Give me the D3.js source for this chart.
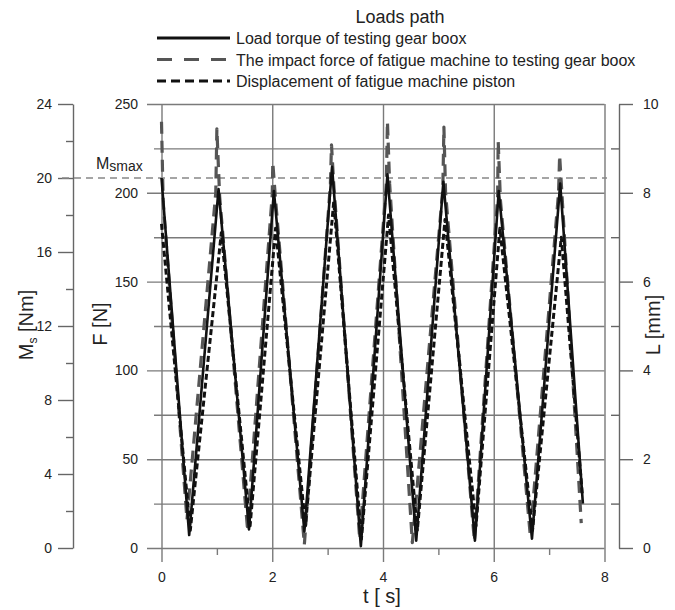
<!DOCTYPE html>
<html>
<head>
<meta charset="utf-8">
<script src="https://cdn.jsdelivr.net/npm/d3@7"></script>
<style>
  body { margin: 0; background: #fff; }
  svg { display: block; font-family: "Liberation Sans", Arial, sans-serif; }
  .tick text { fill: #222; }
</style>
</head>
<body>
<svg id="chart" width="675" height="610"></svg>
<script>
/* DATA */
// load torque of testing gear box, Ms [Nm]
var torqueT  = [0, 0.50, 1.03, 1.58, 2.03, 2.58, 3.08, 3.60, 4.08, 4.60, 5.09, 5.66, 6.09, 6.69, 7.20, 7.61];
var torqueMs = [20.0, 0.7, 19.4, 1.0, 19.3, 0.9, 20.6, 0.1, 20.2, 0.4, 19.8, 0.4, 19.3, 0.5, 19.7, 2.4];

// impact force of fatigue machine, F [N]
var forceT = [0, 0.03, 0.46, 0.98, 1.00, 1.05, 1.55, 2.00, 2.01, 2.06, 2.58, 3.05, 3.07, 3.11, 3.58,
              4.06, 4.08, 4.12, 4.53, 5.08, 5.10, 5.13, 5.65, 6.07, 6.08, 6.12, 6.66, 7.17, 7.19, 7.23, 7.58];
var forceF = [240, 195, 16, 200, 236, 198, 12, 199, 217, 196, 2, 205, 227, 205, 5,
              205, 240, 205, 3, 202, 237, 200, 4, 198, 229, 196, 7, 200, 221, 200, 14];

// displacement of fatigue machine piston, L [mm]
var pistonT = [0, 0.52, 1.08, 1.60, 2.06, 2.60, 3.11, 3.61, 4.10, 4.62, 5.12, 5.68, 6.11, 6.70, 7.22, 7.60];
var pistonL = [7.3, 0.4, 7.1, 0.5, 7.2, 0.5, 7.8, 0.2, 7.5, 0.4, 7.4, 0.5, 7.2, 0.4, 7.0, 1.2];

var xMajor = [0, 2, 4, 6, 8],       xMinor = [1, 3, 5, 7];
var fMajor = [0, 50, 100, 150, 200, 250], fMinor = [25, 75, 125, 175, 225];
var msMajor = [0, 4, 8, 12, 16, 20, 24],  msMinor = [2, 6, 10, 14, 18, 22];
var lMajor = [0, 2, 4, 6, 8, 10],   lMinor = [1, 3, 5, 7, 9];
var msMax = 20;

var legendItems = [
  {name: "Load torque of testing gear boox", color: "#111", dash: null, w: 3},
  {name: "The impact force of fatigue machine to testing gear boox", color: "#555", dash: "15,12", w: 3},
  {name: "Displacement of fatigue machine piston", color: "#111", dash: "9,5", w: 3}
];

/* LAYOUT */
var plotL = 161.5, plotR = 604.5, plotT = 104, plotB = 548;
var gridColor = "#7a7a7a", axisColor = "#666";

var x  = d3.scaleLinear().domain([0, 8]).range([plotL, plotR]);
var yF = d3.scaleLinear().domain([0, 250]).range([plotB, plotT]);
var yM = d3.scaleLinear().domain([0, 24]).range([plotB, plotT]);
var yL = d3.scaleLinear().domain([0, 10]).range([plotB, plotT]);

var svg = d3.select("#chart");
svg.append("rect").attr("width", 675).attr("height", 610).attr("fill", "#fff");

function styleAxis(g, color, width) {
  g.select(".domain").attr("stroke", color).attr("stroke-width", width);
  g.selectAll(".tick line").attr("stroke", color).attr("stroke-width", width);
  g.attr("font-family", null).attr("font-size", 14);
}

// horizontal grid = F axis
var gF = svg.append("g").attr("transform", "translate(" + plotR + ",0)")
  .call(d3.axisLeft(yF).tickValues(fMajor).tickSize(plotR - 147).tickPadding(9));
styleAxis(gF, gridColor, 1.4);
gF.select(".domain").remove();

var gF2 = svg.append("g").attr("transform", "translate(" + plotR + ",0)")
  .call(d3.axisLeft(yF).tickValues(fMinor).tickSize(plotR - 154).tickFormat(""));
styleAxis(gF2, gridColor, 1.4);
gF2.select(".domain").remove();

// vertical grid = t axis
var gX = svg.append("g").attr("transform", "translate(0," + plotT + ")")
  .call(d3.axisBottom(x).tickValues(xMajor).tickSize(562 - plotT).tickPadding(10));
styleAxis(gX, gridColor, 1.4);
gX.select(".domain").remove();

var gX2 = svg.append("g").attr("transform", "translate(0," + plotB + ")")
  .call(d3.axisBottom(x).tickValues(xMinor).tickSize(7).tickFormat(""));
styleAxis(gX2, gridColor, 1.4);
gX2.select(".domain").remove();

// Ms axis on the far left
var gM = svg.append("g").attr("transform", "translate(73,0)")
  .call(d3.axisLeft(yM).tickValues(msMajor).tickSize(15).tickSizeOuter(0).tickPadding(6));
styleAxis(gM, axisColor, 1.4);
var gM2 = svg.append("g").attr("transform", "translate(73,0)")
  .call(d3.axisLeft(yM).tickValues(msMinor).tickSize(7).tickFormat(""));
styleAxis(gM2, axisColor, 1.4);
gM2.select(".domain").remove();

// L axis on the right
var gL = svg.append("g").attr("transform", "translate(619,0)")
  .call(d3.axisRight(yL).tickValues(lMajor).tickSize(14).tickSizeOuter(0).tickPadding(10));
styleAxis(gL, axisColor, 1.4);
var gL2 = svg.append("g").attr("transform", "translate(619,0)")
  .call(d3.axisLeft(yL).tickValues(lMinor).tickSize(8).tickFormat(""));
styleAxis(gL2, axisColor, 1.4);
gL2.select(".domain").remove();

// Msmax line
svg.append("line")
  .attr("x1", 62).attr("x2", 607)
  .attr("y1", yM(msMax)).attr("y2", yM(msMax))
  .attr("stroke", "#888").attr("stroke-width", 1.6)
  .attr("stroke-dasharray", "7,5");

var ms = svg.append("text").attr("x", 96).attr("y", 169).attr("fill", "#222");
ms.append("tspan").attr("font-size", 16).text("M");
ms.append("tspan").attr("font-size", 14).attr("dy", 2).text("smax");

/* SERIES */
function pts(ts, vs) { return ts.map(function (t, i) { return [t, vs[i]]; }); }

svg.append("clipPath").attr("id", "plot")
  .append("rect").attr("x", plotL - 5).attr("y", plotT - 5)
  .attr("width", plotR - plotL + 10).attr("height", plotB - plotT + 10);

var lines = svg.append("g").attr("clip-path", "url(#plot)")
  .attr("fill", "none").attr("stroke-linejoin", "round");

lines.append("path")
  .attr("d", d3.line().x(function (d) { return x(d[0]); }).y(function (d) { return yF(d[1]); })(pts(forceT, forceF)))
  .attr("stroke", legendItems[1].color).attr("stroke-width", 3.2)
  .attr("stroke-dasharray", "12,7");

lines.append("path")
  .attr("d", d3.line().x(function (d) { return x(d[0]); }).y(function (d) { return yL(d[1]); })(pts(pistonT, pistonL)))
  .attr("stroke", legendItems[2].color).attr("stroke-width", 3)
  .attr("stroke-dasharray", "6,3");

lines.append("path")
  .attr("d", d3.line().x(function (d) { return x(d[0]); }).y(function (d) { return yM(d[1]); })(pts(torqueT, torqueMs)))
  .attr("stroke", legendItems[0].color).attr("stroke-width", 2.6);

/* AXIS TITLES */
var msLabel = svg.append("text").attr("transform", "translate(33,325) rotate(-90)")
  .attr("text-anchor", "middle").attr("font-size", 20).attr("fill", "#222");
msLabel.append("tspan").text("M");
msLabel.append("tspan").attr("font-size", 12).attr("dy", 4).text("s");
msLabel.append("tspan").attr("dy", -4).text(" [Nm]");

svg.append("text").attr("transform", "translate(107,324) rotate(-90)")
  .attr("text-anchor", "middle").attr("font-size", 20).attr("fill", "#222").text("F [N]");

svg.append("text").attr("transform", "translate(660,325) rotate(-90)")
  .attr("text-anchor", "middle").attr("font-size", 20).attr("fill", "#222").text("L [mm]");

svg.append("text").attr("x", 382).attr("y", 603)
  .attr("text-anchor", "middle").attr("font-size", 20).attr("fill", "#222").text("t [ s]");

/* LEGEND */
svg.append("text").attr("x", 400).attr("y", 23).attr("text-anchor", "middle")
  .attr("font-size", 18).attr("fill", "#222").text("Loads path");

var legend = svg.selectAll("g.legendg").data(legendItems).enter().append("g")
  .attr("class", "legendg")
  .attr("transform", function (d, i) { return "translate(157," + (38 + i * 21.5) + ")"; });

legend.append("line")
  .attr("x1", 0).attr("x2", 73)
  .attr("stroke", function (d) { return d.color; })
  .attr("stroke-width", function (d) { return d.w; })
  .attr("stroke-dasharray", function (d) { return d.dash; });

legend.append("text")
  .attr("x", 79).attr("y", 6)
  .attr("font-size", 16).attr("fill", "#222")
  .text(function (d) { return d.name; });
</script>
</body>
</html>
